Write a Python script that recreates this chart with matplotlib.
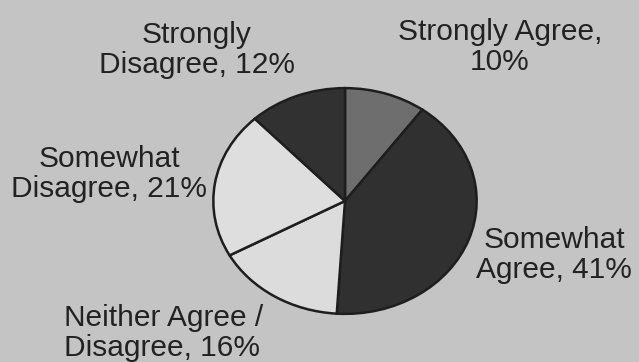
import matplotlib.pyplot as plt

# Survey response shares (clockwise from 12 o'clock)
labels = ["Strongly Agree", "Somewhat Agree", "Neither Agree /\nDisagree",
          "Somewhat\nDisagree", "Strongly\nDisagree"]
shares = [10, 41, 16, 21, 12]
colors = ["#6e6e6e", "#303030", "#dcdcdc", "#dedede", "#313131"]

bg = "#c4c4c4"
fig = plt.figure(figsize=(6.39, 3.62), dpi=100, facecolor=bg)

# pie axes (slightly stretched horizontally, like the scan)
ax = fig.add_axes([212 / 639, (362 - 315) / 362, 266 / 639, 228 / 362])
ax.pie(shares, colors=colors, startangle=90, counterclock=False,
       wedgeprops=dict(edgecolor="#1e1e1e", linewidth=1.8))
ax.set_aspect("auto")
ax.set_xlim(-1.01, 1.01)
ax.set_ylim(-1.01, 1.01)
ax.set_facecolor(bg)

# label axes in pixel coordinates
lab = fig.add_axes([0, 0, 1, 1])
lab.set_xlim(0, 639)
lab.set_ylim(362, 0)
lab.axis("off")
lab.patch.set_alpha(0)

font = dict(family="Liberation Sans", fontsize=21.5, color="#222222",
            va="center", linespacing=1.1)
texts = [
    (f"{labels[0]},\n{shares[0]}%", 500, 47, "center"),
    (f"{labels[1]}, {shares[1]}%".replace("Somewhat ", "Somewhat\n"), 554, 255, "center"),
    (f"{labels[2]}, {shares[2]}%", 64, 333, "left"),
    (f"{labels[3]}, {shares[3]}%", 109, 174, "center"),
    (f"{labels[4]}, {shares[4]}%", 197, 50, "center"),
]
for t, x, y, ha in texts:
    lab.text(x, y, t, ha=ha, multialignment=ha, **font)

fig.savefig("out.png", dpi=100, facecolor=bg)
